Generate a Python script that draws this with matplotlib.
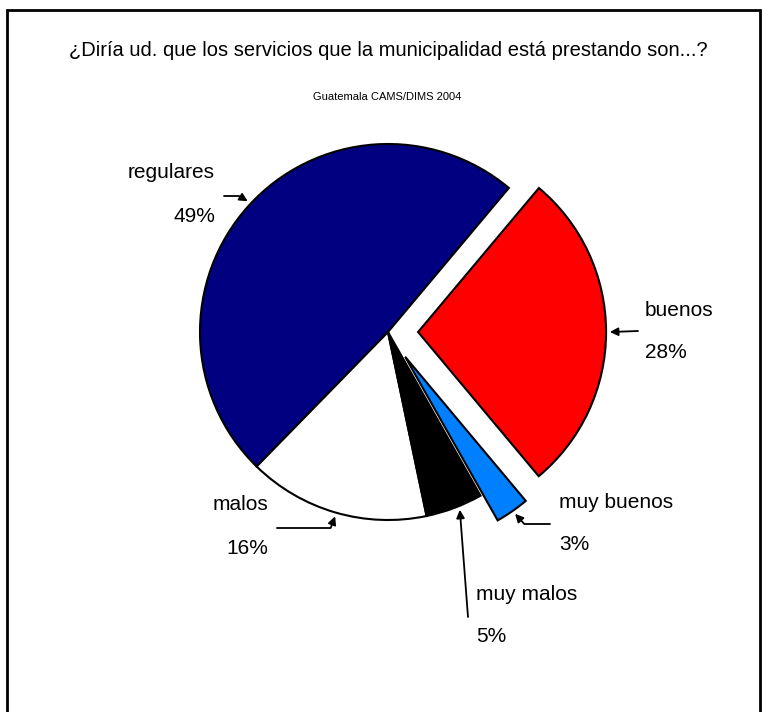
import matplotlib.pyplot as plt
from matplotlib.patches import Rectangle
import numpy as np

# datos (porcentajes)
categorias = ['regulares', 'malos', 'muy malos', 'muy buenos', 'buenos']
valores = [48.8, 15.6, 4.9, 2.9, 27.8]
colores = ['#000080', '#FFFFFF', '#000000', '#0080FF', '#FF0000']
separar = [0, 0, 0, 0.16, 0.16]

titulo = '¿Diría ud. que los servicios que la municipalidad está prestando son...?'
subtitulo = 'Guatemala CAMS/DIMS 2004'

W, H = 763, 712
plt.rcParams['font.family'] = ['Liberation Sans', 'DejaVu Sans']

fig = plt.figure(figsize=(W / 100, H / 100), dpi=100)
ax = fig.add_axes([0, 0, 1, 1])


def py(y):
    # coordenada y en pixeles (desde arriba) -> datos
    return H - y


cx, cy, R = 388, py(332), 188
wedges, _ = ax.pie(valores, colors=colores, explode=[s * R for s in separar],
                   startangle=50, counterclock=True, radius=R, center=(cx, cy),
                   wedgeprops=dict(edgecolor='black', linewidth=1.5))
ax.set_xlim(0, W)
ax.set_ylim(0, H)
ax.set_aspect('auto')
ax.axis('off')

# marco
ax.add_patch(Rectangle((7, -20), 753, py(10) + 20, fill=False,
                       edgecolor='black', linewidth=2, clip_on=False))

ax.text(388, py(50), titulo, ha='center', va='center', fontsize=14.5)
ax.text(387, py(97), subtitulo, ha='center', va='center', fontsize=8)

# etiquetas: (texto x, y nombre, y porcentaje, alineacion, cola x, cola y, angulo punta, codo)
etiquetas = {
    'regulares': (215, 173, 216, 'right', 224, 196, 137, -31),
    'malos': (268, 505, 548, 'right', 277, 528, 254, 69),
    'muy malos': (476, 594, 637, 'left', 468, 617, 292, None),
    'muy buenos': (559, 502, 545, 'left', 550, 524, 305, 132),
    'buenos': (645, 310, 352, 'left', 638, 331, 0, None),
}

for w, cat, v in zip(wedges, categorias, valores):
    tx, yn, yp, ha, ax0, ay0, ang, codo = etiquetas[cat]
    ax.text(tx, py(yn), cat, ha=ha, va='center', fontsize=15)
    ax.text(tx, py(yp), f'{v:.0f}%', ha=ha, va='center', fontsize=15)
    a = np.deg2rad(ang)
    tip = (w.center[0] + w.r * 1.02 * np.cos(a), w.center[1] + w.r * 1.02 * np.sin(a))
    props = dict(arrowstyle='-|>', color='black', lw=1.3, mutation_scale=12,
                 shrinkA=0, shrinkB=0)
    if codo is not None:
        props['connectionstyle'] = f'angle,angleA=0,angleB={codo},rad=0'
    ax.annotate('', xy=tip, xytext=(ax0, py(ay0)), arrowprops=props)

fig.savefig('out.png', dpi=100)
